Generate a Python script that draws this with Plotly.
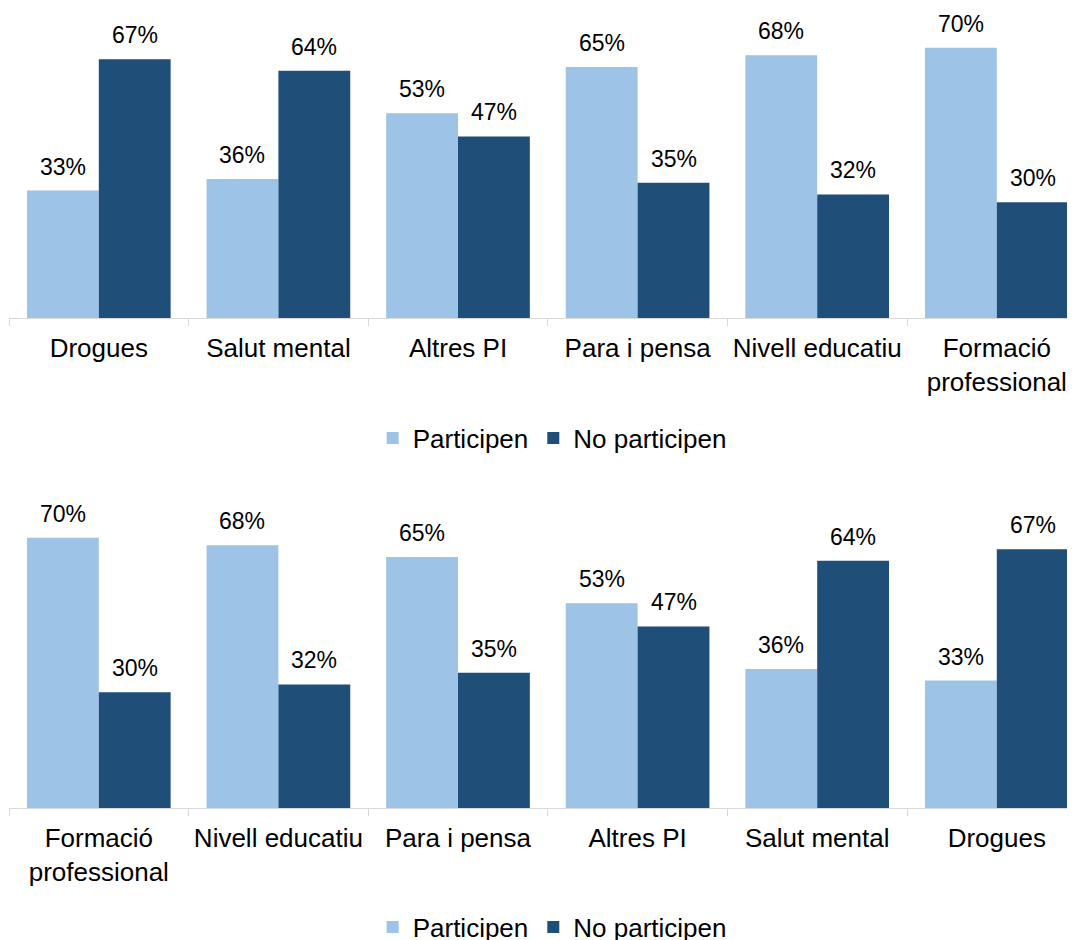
import plotly.graph_objects as go

# Data
cats_top = ["Drogues", "Salut mental", "Altres PI", "Para i pensa", "Nivell educatiu", "Formació<br>professional"]
part_top = [33, 36, 53, 65, 68, 70]
nopart_top = [67, 64, 47, 35, 32, 30]

cats_bot = ["Formació<br>professional", "Nivell educatiu", "Para i pensa", "Altres PI", "Salut mental", "Drogues"]
part_bot = [70, 68, 65, 53, 36, 33]
nopart_bot = [30, 32, 35, 47, 64, 67]

series_names = ["Participen", "No participen"]
LIGHT = "#9DC3E6"
DARK = "#1F4E79"
FONT = "Liberation Sans, Arial, sans-serif"

# page body has an 8px margin, so the figure is drawn at (8, 8)
OFF = 8
W, H = 1075 - OFF, 940 - OFF
fig = go.Figure()

panels = [
    ("x", "y", "legend", cats_top, part_top, nopart_top),
    ("x2", "y2", "legend2", cats_bot, part_bot, nopart_bot),
]

annotations = []
for xa, ya, lg, cats, p, n in panels:
    for name, vals, col, shift in [(series_names[0], p, LIGHT, -36), (series_names[1], n, DARK, 36)]:
        fig.add_trace(go.Bar(
            x=cats, y=vals, name=name, marker_color=col, marker_line_width=0,
            xaxis=xa, yaxis=ya, legend=lg, hoverinfo="x+y",
        ))
        for c, v in zip(cats, vals):
            annotations.append(dict(
                x=c, y=v, xref=xa, yref=ya, text=f"{v}%", showarrow=False,
                xshift=shift, yshift=9, yanchor="bottom", xanchor="center",
                font=dict(family=FONT, size=23, color="#000000"),
            ))

cat_w = 179.6
left_px = 9 - OFF
x_range = [-0.5, -0.5 + (W - left_px) / cat_w]

axis_common = dict(
    type="category", range=x_range, domain=[left_px / W, 1], automargin=False,
    showline=True, linecolor="#D9D9D9", linewidth=1,
    ticks="outside", tickson="boundaries", ticklen=7, tickcolor="#D9D9D9",
    tickfont=dict(family=FONT, size=26, color="#000000"),
    showgrid=False, zeroline=False, ticklabelstandoff=7,
)
yax_common = dict(range=[0, 80], showticklabels=False, showgrid=False, automargin=False,
                  zeroline=False, showline=False, ticks="")

def frac(px):
    # px given in reference-image coordinates
    return 1 - (px - OFF) / H

fig.update_layout(
    width=W, height=H,
    margin=dict(l=0, r=0, t=0, b=0, autoexpand=False),
    paper_bgcolor="white", plot_bgcolor="white",
    barmode="group", bargap=0.2, bargroupgap=0,
    font=dict(family=FONT, color="#000000"),
    xaxis=dict(axis_common, anchor="y"),
    xaxis2=dict(axis_common, anchor="y2"),
    yaxis=dict(yax_common, domain=[frac(318), frac(9)], anchor="x"),
    yaxis2=dict(yax_common, domain=[frac(808), frac(499)], anchor="x2"),
    legend=dict(orientation="h", x=0.51, xanchor="center", y=frac(438), yanchor="middle",
                font=dict(family=FONT, size=26, color="#000000"), bgcolor="rgba(0,0,0,0)"),
    legend2=dict(orientation="h", x=0.51, xanchor="center", y=frac(927), yanchor="middle",
                 font=dict(family=FONT, size=26, color="#000000"), bgcolor="rgba(0,0,0,0)"),
    annotations=annotations,
    showlegend=True,
)

fig.write_html("out.html")
